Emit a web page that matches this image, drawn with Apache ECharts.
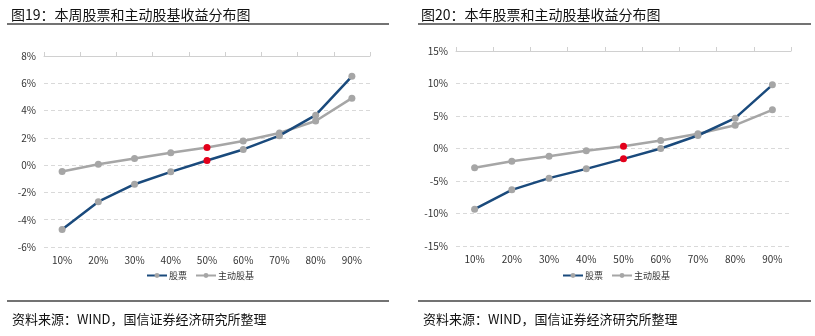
<!DOCTYPE html>
<html><head><meta charset="utf-8">
<script src="https://cdn.jsdelivr.net/npm/echarts@6/dist/echarts.min.js"></script>
<style>html,body{margin:0;padding:0;background:#fff}#c{width:815px;height:336px}</style>
</head><body><div id="c"></div>
<script>
const categories = ['10%','20%','30%','40%','50%','60%','70%','80%','90%'];
const weekStock = [-4.72,-2.68,-1.40,-0.49,0.34,1.15,2.16,3.66,6.51];
const weekFund  = [-0.47,0.07,0.49,0.91,1.30,1.77,2.36,3.24,4.91];
const yearStock = [-9.33,-6.36,-4.56,-3.13,-1.59,0.00,2.00,4.67,9.79];
const yearFund  = [-2.97,-1.95,-1.18,-0.36,0.36,1.23,2.26,3.59,5.95];
const seriesNames = ['股票','主动股基'];
const titles = ['图19：本周股票和主动股基收益分布图','图20：本年股票和主动股基收益分布图'];
const sourceText = '资料来源：WIND，国信证券经济研究所整理';

const FONT = '"Noto Sans CJK SC", "Noto Sans", sans-serif';
const BLUE = '#1a4a7c', GRAY = '#a6a6a6', RED = '#e3001b';
const mark = (arr) => arr.map((v,i)=> i===4 ? {value:v, itemStyle:{color:RED}} : v);

const chart = echarts.init(document.getElementById('c'));
const grids = [
  {left:44, right:445, top:56, bottom:89},
  {left:456, right:24, top:51, bottom:90}
];
const xAxes = [], yAxes = [], series = [];
const yCfg = [{min:-6,max:8,interval:2},{min:-15,max:15,interval:5}];
const data = [[weekStock,weekFund],[yearStock,yearFund]];
grids.forEach((g,i)=>{
  xAxes.push({type:'category', gridIndex:i, data:categories, position:'bottom',
    axisLine:{show:false}, axisTick:{show:false},
    axisLabel:{color:'#333', fontSize:10, fontFamily:FONT, margin:8}});
  xAxes.push({type:'category', gridIndex:i, data:categories,
    axisLine:{onZero:true, lineStyle:{color:'#d0d0d0', width:1}},
    axisTick:{show:true, length:4, lineStyle:{color:'#d0d0d0'}},
    axisLabel:{show:false}});
  yAxes.push({type:'value', gridIndex:i, min:yCfg[i].min, max:yCfg[i].max, interval:yCfg[i].interval,
    axisLine:{show:false}, axisTick:{show:false},
    axisLabel:{formatter:'{value}%', color:'#333', fontSize:10, fontFamily:FONT, margin:8},
    splitLine:{lineStyle:{color:'#d9d9d9', type:[4,3], width:1}}});
  series.push({name:seriesNames[0], type:'line', xAxisIndex:i*2, yAxisIndex:i, data:mark(data[i][0]),
    symbol:'circle', symbolSize:7, lineStyle:{color:BLUE, width:2.5}, itemStyle:{color:GRAY}, z:3});
  series.push({name:seriesNames[1], type:'line', xAxisIndex:i*2, yAxisIndex:i, data:mark(data[i][1]),
    symbol:'circle', symbolSize:7, lineStyle:{color:GRAY, width:2.5}, itemStyle:{color:GRAY}, z:2});
});

const legendBase = {data:seriesNames, itemWidth:20, itemHeight:6, itemGap:8,
  textStyle:{color:'#333', fontSize:9, fontFamily:FONT, padding:[0,0,0,-3]}};

chart.setOption({
  animation:false,
  textStyle:{fontFamily:FONT},
  title:[
    {text:titles[0], left:6, top:3, textStyle:{fontSize:14, fontWeight:'normal', color:'#111', fontFamily:FONT}},
    {text:titles[1], left:416, top:3, textStyle:{fontSize:14, fontWeight:'normal', color:'#111', fontFamily:FONT}},
    {text:sourceText, left:7, top:308, textStyle:{fontSize:13, fontWeight:'normal', color:'#111', fontFamily:FONT}},
    {text:sourceText, left:418, top:308, textStyle:{fontSize:13, fontWeight:'normal', color:'#111', fontFamily:FONT}}
  ],
  graphic:[
    {type:'line', shape:{x1:7,y1:24,x2:389,y2:24}, style:{stroke:'#444', lineWidth:1.5}},
    {type:'line', shape:{x1:418,y1:24,x2:811,y2:24}, style:{stroke:'#444', lineWidth:1.5}},
    {type:'line', shape:{x1:7,y1:301,x2:389,y2:301}, style:{stroke:'#444', lineWidth:1.5}},
    {type:'line', shape:{x1:418,y1:301,x2:811,y2:301}, style:{stroke:'#444', lineWidth:1.5}}
  ],
  legend:[
    Object.assign({}, legendBase, {left:141, top:266}),
    Object.assign({}, legendBase, {left:557, top:266})
  ],
  grid:grids,
  xAxis:xAxes,
  yAxis:yAxes,
  series:series
});
</script></body></html>
